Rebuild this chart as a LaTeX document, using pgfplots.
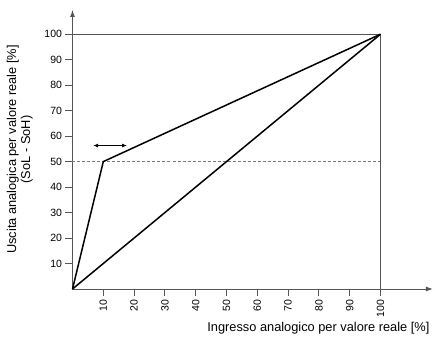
\documentclass[border=0pt]{standalone}
\usepackage{fontspec}
\setmainfont{Liberation Sans}
\usepackage{pgfplots}
\pgfplotsset{compat=1.18}
\usetikzlibrary{arrows.meta}
\definecolor{axgray}{HTML}{555555}
\definecolor{dashgray}{HTML}{7A7A7A}
\begin{document}
\begin{tikzpicture}
\begin{axis}[
  anchor=origin, at={(0,0)},
  scale only axis, width=360.4bp, height=279bp,
  xmin=0, xmax=117, ymin=0, ymax=109.5,
  axis lines=left,
  axis line style={axgray, line width=0.9bp, -{Latex[length=7bp,width=5bp]}},
  clip=false,
  xtick={10,20,...,100}, ytick={10,20,...,100},
  tick align=outside, major tick length=7bp,
  tick style={axgray, line width=0.9bp},
  /pgf/number format/assume math mode=true,
  tick label style={font=\fontsize{10.5bp}{12bp}\selectfont, black},
  x tick label style={rotate=90, anchor=east},
  xlabel={Ingresso analogico per valore reale [\%]},
  ylabel={Uscita analogica per valore reale [\%]\\(SoL - SoH)},
  label style={font=\fontsize{12.8bp}{14bp}\selectfont},
  xlabel style={at={(axis description cs:1,0)}, anchor=east, yshift=-39bp},
  ylabel style={align=center, at={(axis description cs:-0.1465,0.5)}, anchor=center},
]
\addplot[dashgray, dashed, line width=0.9bp, dash pattern=on 3bp off 2bp] coordinates {(0,50) (100,50)};
\addplot[axgray, line width=0.9bp] coordinates {(0,100) (100,100) (100,0)};
\addplot[black, line width=1.5bp] coordinates {(0,0) (100,100)};
\addplot[black, line width=1.5bp] coordinates {(0,0) (10,50) (100,100)};
\addplot[black, line width=0.9bp, {Latex[length=5bp,width=4bp]}-{Latex[length=5bp,width=4bp]}] coordinates {(6.7,56.3) (17.7,56.3)};
\end{axis}
\pgfresetboundingbox
\path[use as bounding box] (-72.5bp,-52bp) rectangle (362.5bp,289bp);
\end{tikzpicture}
\end{document}
